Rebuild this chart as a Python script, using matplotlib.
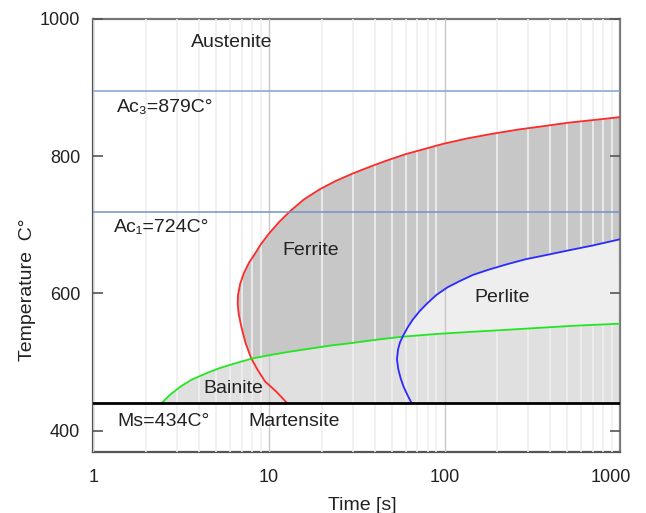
import numpy as np
import matplotlib.pyplot as plt
import matplotlib.transforms as mtransforms
from matplotlib.ticker import LogLocator, FixedLocator, NullFormatter

plt.rcParams['font.family'] = ['Liberation Sans', 'DejaVu Sans']

# curves: (time [s], temperature)
ferrite_t = [12.6, 11.0, 9.48, 8.6, 7.9, 7.35, 6.95, 6.72, 6.63, 6.66, 6.85, 7.2, 7.7, 8.32,
             9.0, 9.9, 11.4, 13.2, 15.8, 19.5, 24, 30.1, 37, 46, 60, 78, 98, 135, 190,
             265, 370, 513, 720, 1000]
ferrite_T = [441, 457, 472, 489, 506, 528, 552, 570, 585, 598, 614, 630, 645, 658,
             672, 686, 704, 720, 737, 752, 764, 775, 784, 793, 803, 811, 818, 826, 833,
             839, 844, 849, 853, 857]

bainite_t = [2.46, 2.75, 3.12, 3.6, 4.42, 5.2, 6.0, 7.95, 10, 13, 17, 22.2, 30, 42,
             57.7, 90, 140, 224, 350, 550, 1000]
bainite_T = [441, 453, 464, 474, 484, 491, 496, 505, 510, 515, 519.5, 524, 528, 533,
             537, 541, 544, 547, 550, 553, 556]

perlite_t = [64.7, 61.5, 58.5, 56.3, 54.5, 53.6, 54.3, 55.8, 58, 61.5, 66, 72, 80, 90,
             104, 122, 145, 180, 230, 291, 380, 491, 700, 1000]
perlite_T = [441, 452, 464, 476, 490, 504, 518, 529, 538, 550, 562, 574, 586, 598,
             609, 618, 627, 635, 643, 650, 656, 662, 670, 679]

# lines as drawn
ac3_line = 895
ac1_line = 719
ms_line = 441

x_ticks = [1, 10, 100, 1000]
y_ticks = [400, 600, 800, 1000]

fig = plt.figure(figsize=(6.46, 5.13), dpi=100)
ax = fig.add_axes([0.1447, 0.1189, 0.8151, 0.8441])
ax.set_xscale('log')
ax.set_xlim(1, 1000)
ax.set_ylim(369, 1000)

# fills, layered
ax.fill(ferrite_t + [1000], ferrite_T + [ms_line], color='#c7c7c7', lw=0, zorder=1)
ax.fill(perlite_t + [1000], perlite_T + [ms_line], color='#eeeeee', lw=0, zorder=1.1)
ax.fill_between(bainite_t, bainite_T, ms_line, color='#e0e0e0', lw=0, zorder=1.2)

# curves
ax.plot(ferrite_t, ferrite_T, color='#ff2a2a', lw=1.3, zorder=3)
ax.plot(bainite_t, bainite_T, color='#22e622', lw=1.3, zorder=3)
ax.plot(perlite_t, perlite_T, color='#2a2aff', lw=1.3, zorder=3)

ax.axhline(ac3_line, color='#7fa3d3', lw=1.1, zorder=3)
ax.axhline(ac1_line, color='#7393c3', lw=1.1, zorder=3)
ax.axhline(ms_line, color='black', lw=2, zorder=3)

# vertical grid
ax.xaxis.set_minor_locator(LogLocator(base=10, subs=np.arange(2, 10)))
ax.xaxis.set_minor_formatter(NullFormatter())
ax.grid(True, which='minor', axis='x', color='#efefef', lw=1.2, zorder=2)
ax.grid(True, which='major', axis='x', color='#c8c8c8', lw=1.0, zorder=2)
ax.set_axisbelow(False)

ax.xaxis.set_major_locator(FixedLocator(x_ticks))
ax.set_xticklabels([str(v) for v in x_ticks])
ax.set_yticks(y_ticks)
ax.tick_params(axis='x', which='both', length=0, pad=12, labelsize=13, labelcolor='#222222')
ax.tick_params(axis='y', direction='in', length=7, width=1.2, color='#555555',
               right=True, pad=9.5, labelsize=13, labelcolor='#222222')

# last x label sits a little to the left, as in the original
last = ax.get_xticklabels()[-1]
last.set_transform(last.get_transform() + mtransforms.ScaledTranslation(-0.09, 0, fig.dpi_scale_trans))

for side in ['left', 'bottom']:
    ax.spines[side].set_color('#555555')
    ax.spines[side].set_linewidth(1.6)
for side in ['top', 'right']:
    ax.spines[side].set_color('#777777')
    ax.spines[side].set_linewidth(1.6)

ax.set_xlabel('Time [s]', fontsize=14, color='#222222')
ax.xaxis.set_label_coords(0.51, -0.105)
ax.set_ylabel('Temperature  C°', fontsize=14, color='#222222')
ax.yaxis.set_label_coords(-0.11, 0.374)

fs = 14
ax.text(6.17, 966, 'Austenite', fontsize=fs, ha='center', va='center', color='#222222')
ax.text(1.36, 871, 'Ac₃=879C°', fontsize=fs, ha='left', va='center', color='#222222')
ax.text(1.30, 696, 'Ac₁=724C°', fontsize=fs, ha='left', va='center', color='#222222')
ax.text(17.2, 662, 'Ferrite', fontsize=fs, ha='center', va='center', color='#222222', zorder=4)
ax.text(212, 594, 'Perlite', fontsize=fs, ha='center', va='center', color='#222222', zorder=4)
ax.text(6.24, 462, 'Bainite', fontsize=fs, ha='center', va='center', color='#222222', zorder=4)
ax.text(1.36, 413, 'Ms=434C°', fontsize=fs, ha='left', va='center', color='#222222')
ax.text(7.63, 413, 'Martensite', fontsize=fs, ha='left', va='center', color='#222222')

fig.savefig('out.png', dpi=100)
